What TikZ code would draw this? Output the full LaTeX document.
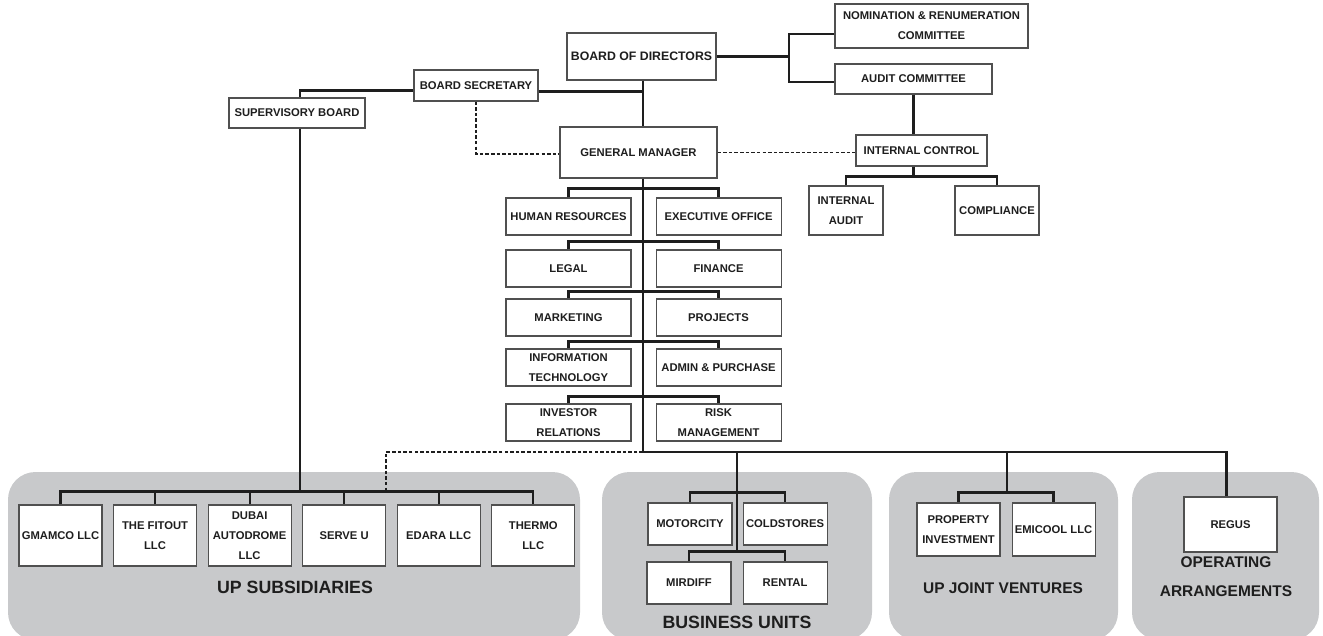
\documentclass[tikz,border=0pt]{standalone}
\usepackage{fontspec}
\setmainfont{Liberation Sans}
\usetikzlibrary{positioning}
\definecolor{panelgray}{RGB}{200,201,203}
\definecolor{boxline}{RGB}{80,80,80}
\definecolor{inkdark}{RGB}{30,30,30}

\begin{document}
\begin{tikzpicture}[
  x=0.02cm, y=-0.02cm,
  node distance=0.48cm and 0.48cm,
  box/.style={rectangle, draw=boxline, line width=0.6pt, fill=white, inner sep=0pt, align=center, text=inkdark, font=\bfseries\fontsize{6.4}{11.3}\selectfont},
  wh/.style 2 args={minimum width=#1*0.02cm, minimum height=#2*0.02cm},
  dept/.style={box, wh={125}{37}},
  unit/.style={box, wh={83}{61}},
  panel/.style={rectangle, fill=panelgray, rounded corners=0.55cm, inner sep=0pt},
  grouptitle/.style={text=inkdark, align=center, font=\bfseries\fontsize{10.1}{12}\selectfont},
  link/.style={line width=1.25pt, draw=inkdark},
  dashlink/.style={line width=1.05pt, draw=inkdark, dash pattern=on 2pt off 1.2pt}
]
\useasboundingbox (0,0) rectangle (1323,636);

% Group panels
\node[panel, wh={572}{168}] (pnlsubs) at (294,556) {};
\node[panel, wh={270}{168}] (pnlunits) at (737,556) {};
\node[panel, wh={229}{168}] (pnljv) at (1003.5,556) {};
\node[panel, wh={187}{168}] (pnlops) at (1225.5,556) {};
\node[grouptitle] (ttlsubs) at (295,587) {UP SUBSIDIARIES};
\node[grouptitle] (ttlunits) at (737,622) {BUSINESS UNITS};
\node[grouptitle, font=\bfseries\fontsize{8.8}{12}\selectfont] (ttljv) at (1003,588) {UP JOINT VENTURES};
\node[grouptitle, font=\bfseries\fontsize{8.8}{16.4}\selectfont] (ttlops) at (1226,577) {OPERATING\\ARRANGEMENTS};

% Board level
\node[box, wh={149}{47}, font=\bfseries\fontsize{7}{12}\selectfont] (bod) at (641.5,56.5) {BOARD OF DIRECTORS};
\node[box, wh={193}{44}] (nomcom) at (931.5,26) {NOMINATION \& RENUMERATION\\COMMITTEE};
\node[box, wh={157}{30}] (auditcom) at (913.5,79) {AUDIT COMMITTEE};
\node[box, wh={124}{31}] (secretary) at (476,85.5) {BOARD SECRETARY};
\node[box, wh={136}{30}] (supervisory) at (297,113) {SUPERVISORY BOARD};
\node[box, wh={157}{51}] (gm) at (638.5,152.5) {GENERAL MANAGER};
\node[box, wh={131}{31}] (intcontrol) at (921.5,150.5) {INTERNAL CONTROL};
\node[box, wh={74}{49}] (intaudit) at (846,210.5) {INTERNAL\\AUDIT};
\node[box, wh={84}{49}] (compliance) at (997,210.5) {COMPLIANCE};

% Departments
\node[dept] (hr) at (568.5,216.5) {HUMAN RESOURCES};
\node[dept, right=of hr] (exec) {EXECUTIVE OFFICE};
\node[dept] (legal) at (568.5,268.5) {LEGAL};
\node[dept, right=of legal] (finance) {FINANCE};
\node[dept] (marketing) at (568.5,317.5) {MARKETING};
\node[dept, right=of marketing] (projects) {PROJECTS};
\node[dept] (infotech) at (568.5,367.5) {INFORMATION\\TECHNOLOGY};
\node[dept, right=of infotech] (admin) {ADMIN \& PURCHASE};
\node[dept] (investor) at (568.5,422.5) {INVESTOR\\RELATIONS};
\node[dept, right=of investor] (risk) {RISK\\MANAGEMENT};

% Subsidiaries
\node[unit] (gmamco) at (60.5,535.5) {GMAMCO LLC};
\node[unit, right=0.21cm of gmamco] (fitout) {THE FITOUT\\LLC};
\node[unit, right=0.21cm of fitout] (autodrome) {DUBAI\\AUTODROME\\LLC};
\node[unit, right=0.21cm of autodrome] (serveu) {SERVE U};
\node[unit, right=0.21cm of serveu] (edara) {EDARA LLC};
\node[unit, right=0.21cm of edara] (thermo) {THERMO\\LLC};

% Business units, joint ventures, operating arrangements
\node[box, wh={84}{42}] (motorcity) at (690,524) {MOTORCITY};
\node[box, wh={84}{42}, right=0.2cm of motorcity] (coldstores) {COLDSTORES};
\node[box, wh={84}{42}] (mirdiff) at (689,583) {MIRDIFF};
\node[box, wh={84}{42}, right=0.22cm of mirdiff] (rental) {RENTAL};
\node[box, wh={83}{53}] (property) at (958.5,529.5) {PROPERTY\\INVESTMENT};
\node[box, wh={83}{53}, right=0.22cm of property] (emicool) {EMICOOL LLC};
\node[box, wh={93}{55}] (regus) at (1230.5,524.5) {REGUS};

% Junctions
\coordinate (trunk) at (643,452);
\coordinate (combr) at (789,56.5);
\coordinate (subsbar) at (300,492);
\coordinate (bujct) at (737,452);
\coordinate (jvjct) at (1007,452);

% Connections
\draw[link] (bod.south -| trunk) -- (gm.north -| trunk);
\draw[link] ([yshift=-0.12cm]secretary.east) -- ([yshift=-0.12cm]secretary.east -| trunk);
\draw[link] ([yshift=-0.1cm]secretary.west) -| (supervisory.north -| subsbar);
\draw[link] (supervisory.south -| subsbar) -- (subsbar);
\draw[dashlink] (secretary.south) |- ([yshift=-0.03cm]gm.west);
\draw[dashlink] (gm.east) -- (gm.east -| intcontrol.west);
\draw[link] (bod.east) -- (combr);
\draw[link] ([yshift=-0.16cm]nomcom.west) -| (combr) |- ([yshift=-0.06cm]auditcom.west);
\draw[link] (auditcom.south) -- (auditcom.south |- intcontrol.north);
\draw[link] (auditcom.south |- intcontrol.south) -- ++(0,11);
\draw[link] (intaudit.north) -- ++(0,-9) -| (compliance.north);

\draw[link] (gm.south -| trunk) -- (trunk);
\draw[link] (hr.north) -- ++(0,-9) -| (exec.north);
\draw[link] (legal.north) -- ++(0,-8) -| (finance.north);
\draw[link] (marketing.north) -- ++(0,-7) -| (projects.north);
\draw[link] (infotech.north) -- ++(0,-7) -| (admin.north);
\draw[link] (investor.north) -- ++(0,-7) -| (risk.north);

\draw[link] (trunk) -| ([xshift=-0.08cm]regus.north);
\draw[dashlink] (trunk) -| (serveu.north east |- subsbar);
\draw[link] (gmamco.north) -- ++(0,-13) -| (thermo.north);
\draw[link] (fitout.north) -- ++(0,-13);
\draw[link] (autodrome.north) -- ++(0,-13);
\draw[link] (serveu.north) -- ++(0,-13);
\draw[link] (edara.north) -- ++(0,-13);

\draw[link] (bujct) -- ++(0,100);
\draw[link] (motorcity.north) -- ++(0,-10) -| (coldstores.north);
\draw[link] (mirdiff.north) -- ++(0,-10) -| (rental.north);
\draw[link] (jvjct) -- ++(0,41);
\draw[link] (property.north) -- ++(0,-10) -| (emicool.north);

\end{tikzpicture}
\end{document}
